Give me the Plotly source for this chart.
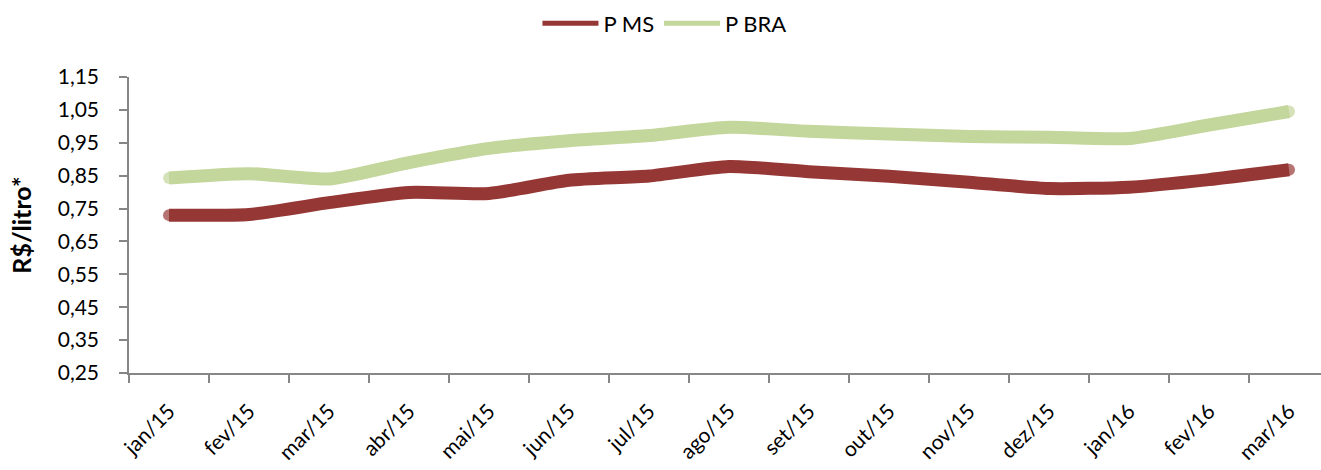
import plotly.graph_objects as go

categories = ["jan/15", "fev/15", "mar/15", "abr/15", "mai/15", "jun/15", "jul/15",
              "ago/15", "set/15", "out/15", "nov/15", "dez/15", "jan/16", "fev/16", "mar/16"]
p_ms = [0.730, 0.732, 0.768, 0.799, 0.796, 0.836, 0.849, 0.878, 0.862, 0.848,
        0.830, 0.811, 0.815, 0.838, 0.868]
p_bra = [0.843, 0.856, 0.840, 0.890, 0.933, 0.956, 0.972, 0.997, 0.985, 0.977,
         0.969, 0.967, 0.963, 1.004, 1.045]

series = [("P MS", p_ms, "#953735"), ("P BRA", p_bra, "#C3D69B")]

font_family = "Lato, 'Open Sans', sans-serif"

fig = go.Figure()
n = len(categories)
end_sizes = [12] + [0] * (n - 2) + [12]
for name, vals, color in series:
    fig.add_trace(go.Scatter(x=categories, y=vals, name=name, mode="lines+markers",
                             showlegend=False,
                             marker=dict(size=end_sizes, color=color, line=dict(width=0)),
                             line=dict(color=color, width=13, shape="spline", smoothing=0.6)))
for name, vals, color in series:
    fig.add_trace(go.Scatter(x=[None], y=[None], name=name, mode="lines",
                             line=dict(color=color, width=5)))

fig.update_layout(
    width=1321, height=470,
    margin=dict(l=129, r=0, t=77, b=97, autoexpand=False),
    paper_bgcolor="white", plot_bgcolor="white",
    separators=",.",
    font=dict(family=font_family, size=21, color="#000000"),
    showlegend=True,
    legend=dict(orientation="h", xref="container", x=0.503, xanchor="center",
                yref="container", y=0.995, yanchor="top", itemwidth=56,
                font=dict(size=22), tracegroupgap=0),
    xaxis=dict(type="category", range=[-0.5, 14.4], showgrid=False,
               showline=True, linecolor="#868686", linewidth=1.5,
               ticks="outside", ticklen=8, tickcolor="#868686", tickwidth=1.5,
               tickson="boundaries", tickangle=-45, ticklabelstandoff=16,
               tickfont=dict(size=21)),
    yaxis=dict(range=[0.25, 1.15], tick0=0.25, dtick=0.1, tickformat=".2f",
               showgrid=False, zeroline=False,
               showline=True, linecolor="#868686", linewidth=1.5,
               ticks="outside", ticklen=8, tickcolor="#868686", tickwidth=1.5,
               ticklabelstandoff=16,
               tickfont=dict(size=21),
               title=dict(text="<b>R$/litro*</b>", font=dict(size=25), standoff=19)),
)

fig.write_html("out.html", config={"displayModeBar": False},
               post_script="document.body.style.margin='0';document.body.style.padding='0';")
